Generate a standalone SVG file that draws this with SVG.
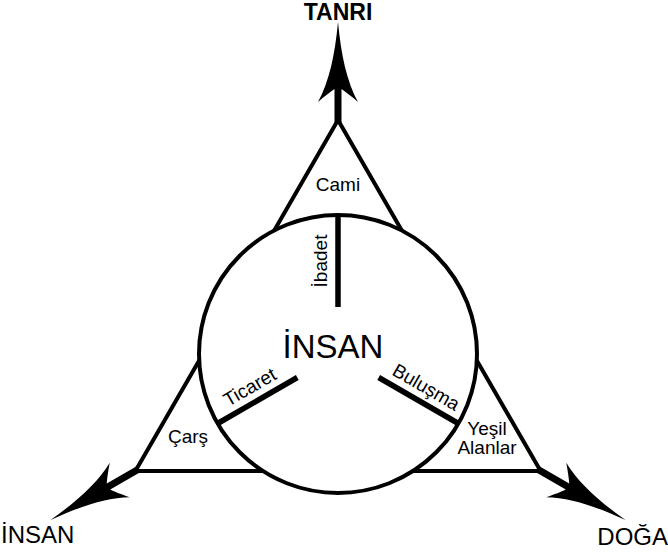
<svg xmlns="http://www.w3.org/2000/svg" width="668" height="554" viewBox="0 0 668 554">
<defs>
<style>
.ln{fill:none;stroke:#000;stroke-width:4;stroke-linejoin:miter}
.sp{stroke:#000;stroke-width:5.5;stroke-linecap:butt}
.t{font-family:"Liberation Sans",Arial,sans-serif;fill:#000}
.lb{font-size:19px;text-anchor:middle}
.big{font-size:24px}
</style>
<path id="arrow" d="M338,22 C341,55 347,82 358,102 C351,96 346,92 341.5,89 L341.5,124 L334.5,124 L334.5,89 C330,92 325,96 318,102 C329,82 335,55 338,22 Z" fill="#000"/>
</defs>
<rect width="668" height="554" fill="#fff"/>
<g id="triangle">
<polygon class="ln" points="338,120 540.6,471 135.4,471"/>
</g>
<g id="connectors">
<use href="#arrow"/>
<use href="#arrow" transform="rotate(120 338 354)"/>
<use href="#arrow" transform="rotate(-120 338 354)"/>
</g>
<g id="circle">
<circle cx="338" cy="354" r="139" fill="#fff" stroke="#000" stroke-width="4"/>
<text class="t" x="333" y="358" font-size="33" text-anchor="middle">İNSAN</text>
</g>
<g id="spokes">
<line class="sp" x1="338" y1="307" x2="338" y2="215"/>
<line class="sp" x1="297.3" y1="377.5" x2="217.6" y2="423.5"/>
<line class="sp" x1="378.7" y1="377.5" x2="458.4" y2="423.5"/>
<text class="t lb" transform="translate(327,261) rotate(-90)">İbadet</text>
<text class="t lb" transform="translate(253,392.7) rotate(-30)">Ticaret</text>
<text class="t lb" transform="translate(423,392.7) rotate(30)">Buluşma</text>
</g>
<g id="cami"><text class="t lb" x="338" y="191">Cami</text></g>
<g id="cars"><text class="t lb" x="188" y="443">Çarş</text></g>
<g id="yesil"><text class="t lb" x="487" y="435" font-size="18">Yeşil</text><text class="t lb" x="487" y="454" font-size="18">Alanlar</text></g>
<g id="tanri"><text class="t" x="338" y="20" font-size="23" font-weight="bold" text-anchor="middle">TANRI</text></g>
<g id="insan"><text class="t big" x="1" y="543">İNSAN</text></g>
<g id="doga"><text class="t big" x="668" y="545" text-anchor="end">DOĞA</text></g>
</svg>
